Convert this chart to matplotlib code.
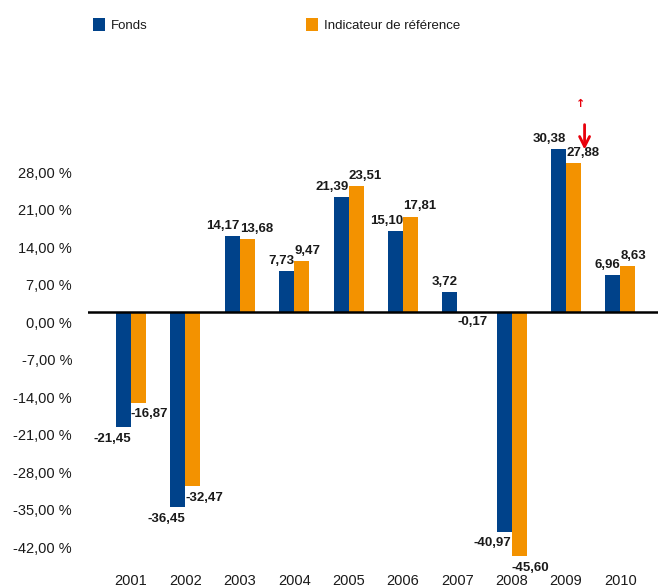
import numpy as np
import matplotlib
matplotlib.use("Agg")
import matplotlib.pyplot as plt
import matplotlib.transforms as mtransforms

plt.rcParams["font.family"] = ["Liberation Sans", "DejaVu Sans"]

# data
years = ["2001", "2002", "2003", "2004", "2005", "2006", "2007", "2008", "2009", "2010"]
fonds = [-21.45, -36.45, 14.17, 7.73, 21.39, 15.10, 3.72, -40.97, 30.38, 6.96]
indicateur = [-16.87, -32.47, 13.68, 9.47, 23.51, 17.81, -0.17, -45.60, 27.88, 8.63]
yticks = [28, 21, 14, 7, 0, -7, -14, -21, -28, -35, -42]

blue = "#00428A"
orange = "#F39200"
txt = "#1a1a1a"


def fr(v, dec=2):
    return f"{v:.{dec}f}".replace(".", ",")


fig = plt.figure(figsize=(6.58, 5.87), dpi=100)
ax = fig.add_axes([88 / 658, 1 - 564 / 587, 570 / 658, 477 / 587])

x = np.arange(len(years))
w = 0.276
b1 = ax.bar(x - w / 2, fonds, w, color=blue, label="Fonds")
b2 = ax.bar(x + w / 2, indicateur, w, color=orange, label="Indicateur de référence")

# value labels: blue right-aligned to its bar, orange left-aligned
for xi, v in zip(x, fonds):
    va = "bottom" if v >= 0 else "top"
    off = 3 if v >= 0 else -4
    ax.annotate(fr(v), (xi, v), xytext=(0, off), textcoords="offset points",
                ha="right", va=va, fontsize=9.5, color=txt, weight="bold")
for xi, v in zip(x, indicateur):
    va = "bottom" if v >= 0 else "top"
    off = 3 if v >= 0 else -4
    if v < 0 and v > -1:
        va, off = "top", -2
    ax.annotate(fr(v), (xi, v), xytext=(0, off), textcoords="offset points",
                ha="left", va=va, fontsize=9.5, color=txt, weight="bold")

ax.axhline(0, color="black", lw=1.8, zorder=3)

# red markers above 2009
ax.annotate("", xy=(8.34, 29.8), xytext=(8.34, 35.5),
            arrowprops=dict(arrowstyle="->", color="#E8000B", lw=2,
                            mutation_scale=18))
ax.text(8.27, 38.8, "↑", color="#E8000B", fontsize=8, ha="center", va="center",
        family=["DejaVu Sans"], weight="bold")

ax.set_xlim(-0.79, 9.69)
ax.set_ylim(-47, 42)
ax.set_xticks(x)
ax.set_xticklabels(years, fontsize=10.5, color=txt)
ax.set_yticks(yticks)
ax.set_yticklabels([fr(t) + " %" for t in yticks], fontsize=10.5, color=txt)
ax.tick_params(axis="both", length=0)
ax.tick_params(axis="y", pad=11.5)
ax.tick_params(axis="x", pad=7)
for s in ax.spines.values():
    s.set_visible(False)

# y labels sit a bit below their value in the original
shift = mtransforms.ScaledTranslation(0, -10 / 100, fig.dpi_scale_trans)
for lab in ax.get_yticklabels():
    lab.set_transform(lab.get_transform() + shift)

fig.legend(handles=[b1, b2], loc="upper left",
           bbox_to_anchor=(81 / 658, 1 - 6 / 587), ncol=2, frameon=False,
           fontsize=9.5, handlelength=0.9, handleheight=1.15,
           handletextpad=0.45, columnspacing=12.0, labelcolor=txt)

fig.savefig("out.png", dpi=100)
